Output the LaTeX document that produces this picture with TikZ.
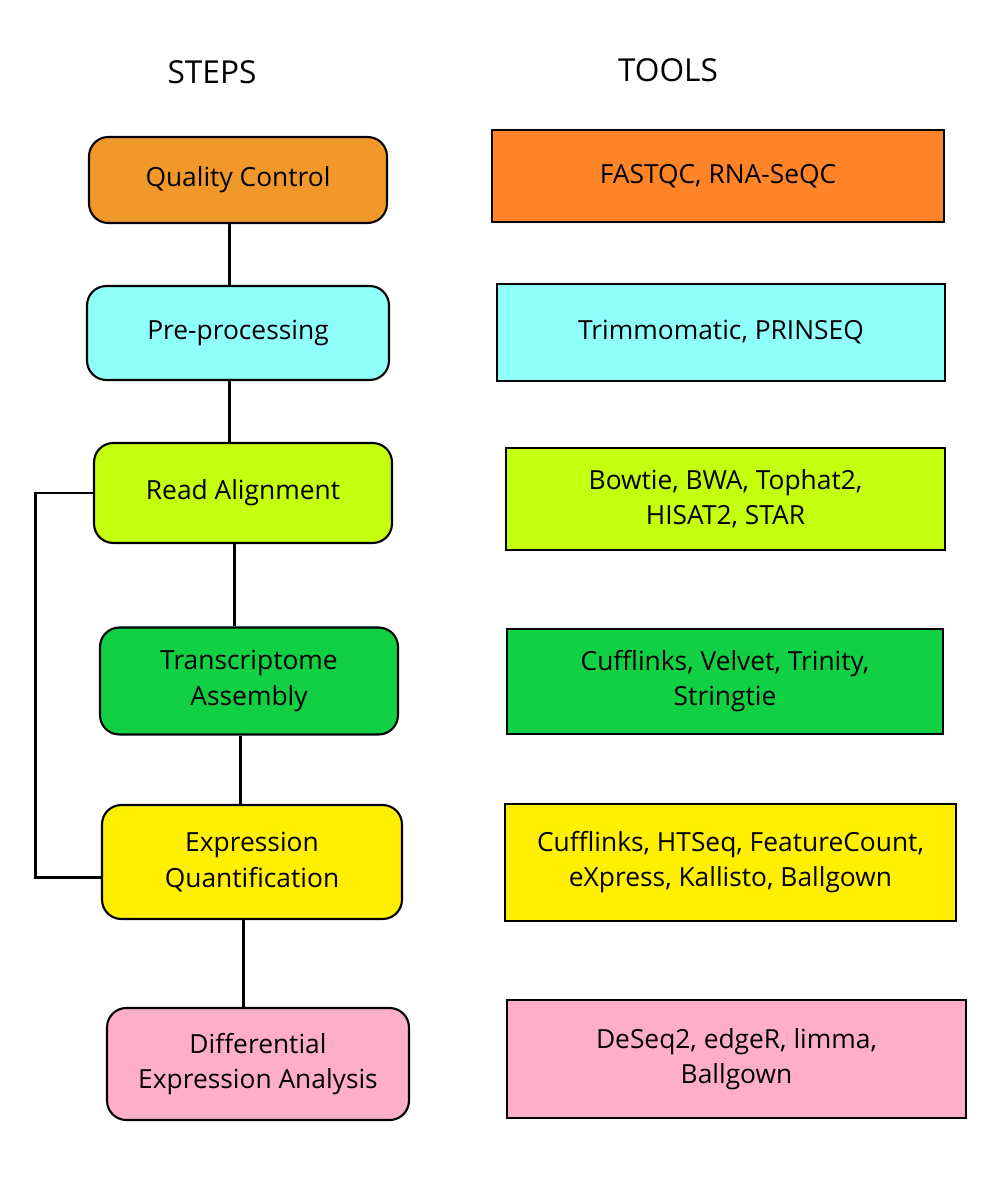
\documentclass[tikz,border=0pt]{standalone}
\usepackage{fontspec}
\setmainfont{Open Sans}
\definecolor{qcorange}{HTML}{F0992A}
\definecolor{toolorange}{HTML}{FF8427}
\definecolor{precyan}{HTML}{8FFFFA}
\definecolor{lime}{HTML}{C4FF10}
\definecolor{green}{HTML}{12D044}
\definecolor{yellow}{HTML}{FFF000}
\definecolor{pink}{HTML}{FFAEC9}
\tikzset{
  stepbox/.style={draw, line width=1.2pt, rounded corners=11pt, align=center,
    font=\fontsize{15}{20}\selectfont},
  toolbox/.style={draw, line width=1.2pt, align=center,
    font=\fontsize{15}{20}\selectfont},
  heading/.style={font=\fontsize{18}{22}\selectfont},
  link/.style={line width=1.7pt}
}
\begin{document}
\begin{tikzpicture}[x=0.02cm,y=-0.02cm]
\useasboundingbox (0,0) rectangle (1000,1182);

\node[heading] (steps) at (212,72) {STEPS};
\node[heading] (tools) at (668,70) {TOOLS};

% steps
\node[stepbox, fill=qcorange, minimum width=5.96cm, minimum height=1.72cm] (qc) at (238,180) {Quality Control};
\node[stepbox, fill=precyan, minimum width=6.04cm, minimum height=1.88cm] (pre) at (238,333) {Pre-processing};
\node[stepbox, fill=lime, minimum width=5.96cm, minimum height=2.0cm] (read) at (243,493) {Read Alignment};
\node[stepbox, fill=green, minimum width=5.96cm, minimum height=2.14cm] (trans) at (249,681) {Transcriptome\\Assembly};
\node[stepbox, fill=yellow, minimum width=6.0cm, minimum height=2.28cm] (expr) at (252,862) {Expression\\Quantification};
\node[stepbox, fill=pink, minimum width=6.04cm, minimum height=2.24cm] (diff) at (258,1064) {Differential\\Expression Analysis};

% tools
\node[toolbox, fill=toolorange, minimum width=9.04cm, minimum height=1.84cm] (qctools) at (718,176) {FASTQC, RNA-SeQC};
\node[toolbox, fill=precyan, minimum width=8.96cm, minimum height=1.94cm] (pretools) at (721,332.5) {Trimmomatic, PRINSEQ};
\node[toolbox, fill=lime, minimum width=8.78cm, minimum height=2.04cm] (readtools) at (725.5,499) {Bowtie, BWA, Tophat2,\\HISAT2, STAR};
\node[toolbox, fill=green, minimum width=8.72cm, minimum height=2.1cm] (transtools) at (725,681.5) {Cufflinks, Velvet, Trinity,\\Stringtie};
\node[toolbox, fill=yellow, minimum width=9.02cm, minimum height=2.34cm] (exprtools) at (730.5,862.5) {Cufflinks, HTSeq, FeatureCount,\\eXpress, Kallisto, Ballgown};
\node[toolbox, fill=pink, minimum width=9.18cm, minimum height=2.36cm] (difftools) at (736.5,1059) {DeSeq2, edgeR, limma,\\Ballgown};

% connectors
\foreach \a/\b in {qc/pre, pre/read, read/trans, trans/expr, expr/diff}
  \draw[link] ([xshift=-5pt]\a.south) -- ([xshift=-5pt]\a.south |- \b.north);
\draw[link] ([yshift=-9pt]expr.west) -- ++(-65,0) |- (read.west);
\end{tikzpicture}
\end{document}
